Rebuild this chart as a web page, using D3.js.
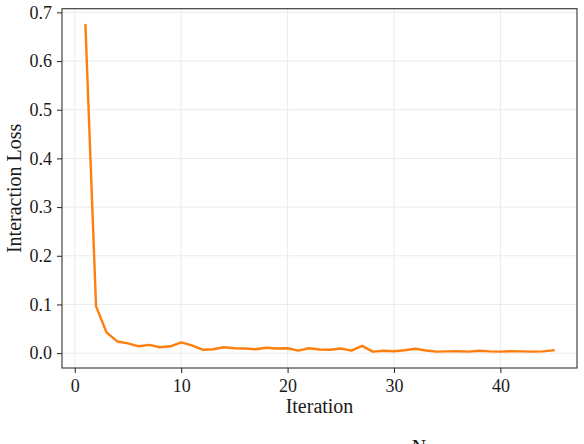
<!DOCTYPE html>
<html><head><meta charset="utf-8">
<script src="https://cdn.jsdelivr.net/npm/d3@7"></script>
<style>
html,body{margin:0;padding:0;background:#fff;overflow:hidden}
svg{display:block}
svg text{font-family:"Liberation Serif","Times New Roman",serif !important;fill:#1a1a1a}
</style></head><body>
<script>
const iterations = d3.range(1, 46);
const lossValues = [0.674,0.096,0.042,0.024,0.020,0.014,0.017,0.012,0.014,0.022,
  0.016,0.007,0.008,0.012,0.010,0.0095,0.008,0.011,0.0095,0.010,
  0.005,0.010,0.0075,0.007,0.0095,0.005,0.015,0.003,0.005,0.004,
  0.006,0.009,0.0055,0.003,0.0035,0.004,0.003,0.005,0.0035,0.003,
  0.004,0.0035,0.003,0.0035,0.006];
const xTicks = [0,10,20,30,40];
const yTicks = [0.0,0.1,0.2,0.3,0.4,0.5,0.6,0.7];
const xLabel = "Iteration";
const yLabel = "Interaction Loss";

const W = 584, H = 444;
const L = 62, R = 577, T = 8.7, B = 368;
const svg = d3.select("body").append("svg").attr("width", W).attr("height", H);

const xPad = (45 - 1) * 0.05;
const yMin = d3.min(lossValues), yMax = d3.max(lossValues);
const yPad = (yMax - yMin) * 0.05;
const x = d3.scaleLinear().domain([1 - xPad, 45 + xPad]).range([L, R]);
const y = d3.scaleLinear().domain([yMin - yPad, yMax + yPad]).range([B, T]);

// grid
const g = svg.append("g");
g.selectAll(".gx").data(xTicks).enter().append("line")
  .attr("x1", d => x(d)).attr("x2", d => x(d)).attr("y1", T).attr("y2", B)
  .attr("stroke", "#ebebeb").attr("stroke-width", 1);
g.selectAll(".gy").data(yTicks).enter().append("line")
  .attr("y1", d => y(d)).attr("y2", d => y(d)).attr("x1", L).attr("x2", R)
  .attr("stroke", "#ebebeb").attr("stroke-width", 1);

// line
svg.append("path").datum(iterations)
  .attr("fill", "none").attr("stroke", "#ff7f0e").attr("stroke-width", 2.4)
  .attr("stroke-linejoin", "round").attr("stroke-linecap", "square")
  .attr("d", d3.line().x(d => x(d)).y((d, i) => y(lossValues[i])));

// axes
const xAxis = d3.axisBottom(x).tickValues(xTicks).tickSize(5).tickPadding(5).tickFormat(d3.format("d"));
const yAxis = d3.axisLeft(y).tickValues(yTicks).tickSize(5).tickPadding(5).tickFormat(d3.format(".1f"));
const gx = svg.append("g").attr("transform", `translate(0,${B})`).call(xAxis);
const gy = svg.append("g").attr("transform", `translate(${L},0)`).call(yAxis);
[gx, gy].forEach(a => {
  a.attr("font-family", null).attr("font-size", null);
  a.select(".domain").remove();
  a.selectAll(".tick line").attr("stroke", "#222").attr("stroke-width", 1);
  a.selectAll(".tick text").style("font-size", "18px").attr("fill", "#1a1a1a");
});
gx.selectAll(".tick text").attr("dy", "0.8em");

// frame
svg.append("rect").attr("x", L).attr("y", T).attr("width", R - L).attr("height", B - T)
  .attr("fill", "none").attr("stroke", "#333").attr("stroke-width", 1.1);

// labels
svg.append("text").attr("x", (L + R) / 2).attr("y", 413).attr("text-anchor", "middle")
  .style("font-size", "20px").text(xLabel);
svg.append("text").attr("transform", `translate(20.5,${(T + B) / 2}) rotate(-90)`)
  .attr("text-anchor", "middle").style("font-size", "20px").text(yLabel);
svg.append("text").attr("x", 419).attr("y", 454).attr("text-anchor", "middle")
  .style("font-size", "20px").text("N");
</script>
</body></html>
